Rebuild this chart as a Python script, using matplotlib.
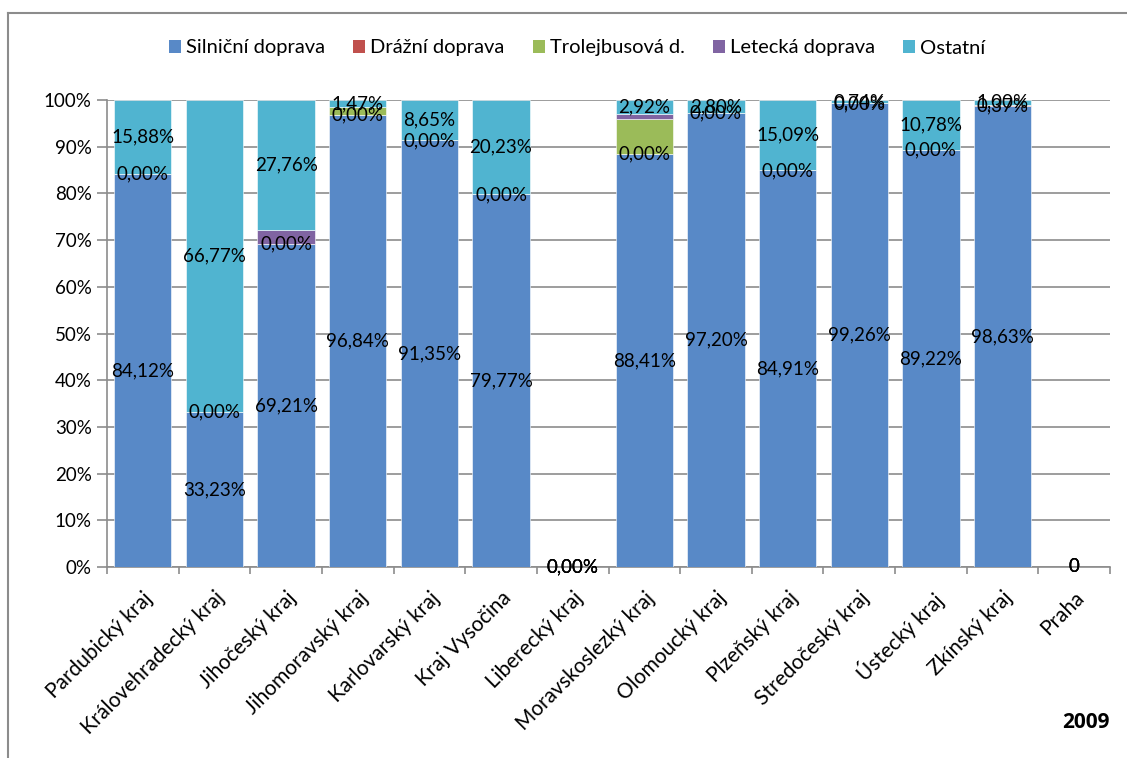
import numpy as np
import matplotlib.pyplot as plt
from matplotlib.patches import Patch
from matplotlib.lines import Line2D

plt.rcParams['font.family'] = ['Lato', 'DejaVu Sans']

# Podíl jednotlivých druhů dopravy v krajích (v %)
kraje = ['Pardubický kraj', 'Královehradecký kraj', 'Jihočeský kraj', 'Jihomoravský kraj',
         'Karlovarský kraj', 'Kraj Vysočina', 'Liberecký kraj', 'Moravskoslezký kraj',
         'Olomoucký kraj', 'Plzeňský kraj', 'Stredočeský kraj', 'Ústecký kraj',
         'Zkínský kraj', 'Praha']
silnicni = [84.12, 33.23, 69.21, 96.84, 91.35, 79.77, 0.00, 88.41, 97.20, 84.91, 99.26, 89.22, 98.63, 0]
drazni = [0.00, 0.00, 0.00, 0.00, 0.00, 0.00, 0.00, 0.00, 0.00, 0.00, 0.00, 0.00, 0.37, 0]
trolejbus = [0.00, 0.00, 0.00, 1.69, 0.00, 0.00, 0.00, 7.50, 0.00, 0.00, 0.00, 0.00, 0.00, 0]
letecka = [0.00, 0.00, 3.03, 0.00, 0.00, 0.00, 0.00, 1.17, 0.00, 0.00, 0.00, 0.00, 0.00, 0]
ostatni = [15.88, 66.77, 27.76, 1.47, 8.65, 20.23, 0.00, 2.92, 2.80, 15.09, 0.74, 10.78, 1.00, 0]
bez_dat = ['Praha']
rok = '2009'

serie = [
    ('Silniční doprava', silnicni, '#5889c7', True),
    ('Drážní doprava', drazni, '#c0504d', True),
    ('Trolejbusová d.', trolejbus, '#9bbb59', False),
    ('Letecká doprava', letecka, '#8064a2', False),
    ('Ostatní', ostatni, '#50b4d0', True),
]

W, H = 1127, 758
fig = plt.figure(figsize=(W / 100, H / 100), dpi=100)
ax = fig.add_axes([107 / W, 1 - 567 / H, (1110 - 107) / W, (567 - 100) / H])

x = np.arange(len(kraje))
dole = np.zeros(len(kraje))
popisky = []
for nazev, hodnoty, barva, s_popisem in serie:
    hodnoty = np.array(hodnoty, dtype=float)
    ax.bar(x, hodnoty, bottom=dole, width=0.8, color=barva,
           edgecolor='white', linewidth=0.4, zorder=3)
    if s_popisem:
        for i, v in enumerate(hodnoty):
            text = '0' if kraje[i] in bez_dat else f'{v:.2f}%'.replace('.', ',')
            popisky.append((x[i], dole[i] + v / 2, text))
    dole += hodnoty

for xi, yi, text in popisky:
    ax.text(xi, yi, text, ha='center', va='center', fontsize=13.5, color='black', zorder=5)

ax.set_xlim(-0.5, len(kraje) - 0.5)
ax.set_ylim(0, 100)
ax.set_yticks(np.arange(0, 101, 10))
ax.set_yticklabels([f'{t}%' for t in range(0, 101, 10)], fontsize=13.5)
ax.yaxis.grid(True, color='#8c8c8c', linewidth=1.2, zorder=0)
ax.set_axisbelow(True)

ax.set_xticks(x)
ax.set_xticklabels(kraje, rotation=45, ha='right', rotation_mode='anchor', fontsize=15)
ax.set_xticks(np.arange(-0.5, len(kraje)), minor=True)
ax.tick_params(axis='x', which='major', length=0, pad=15)
ax.tick_params(axis='x', which='minor', length=5, color='#8c8c8c', width=1.2)
ax.tick_params(axis='y', length=7, color='#8c8c8c', width=1.2, pad=4)

for strana in ['top', 'right']:
    ax.spines[strana].set_visible(False)
for strana in ['left', 'bottom']:
    ax.spines[strana].set_color('#8c8c8c')
    ax.spines[strana].set_linewidth(1.2)

# Legenda nad grafem
polozky = [Patch(facecolor=b, edgecolor='none', label=n) for n, _, b, _ in serie]
fig.legend(handles=polozky, loc='center', bbox_to_anchor=(577 / W, 1 - 48 / H),
           ncol=5, frameon=False, fontsize=14.5, handlelength=0.6, handleheight=0.6,
           handletextpad=0.25, columnspacing=1.4)

fig.text(1110 / W, 1 - 722 / H, rok, ha='right', va='center', fontsize=15,
         fontweight='bold', family=['Open Sans', 'DejaVu Sans'])

# Rámeček kolem grafu
fig.add_artist(Line2D([8 / W, 8 / W], [0, 1 - 13 / H], color='#8c8c8c', linewidth=1.5,
                      transform=fig.transFigure))
fig.add_artist(Line2D([8 / W, 1], [1 - 13 / H, 1 - 13 / H], color='#8c8c8c', linewidth=1.5,
                      transform=fig.transFigure))

fig.savefig('out.png', dpi=100)
